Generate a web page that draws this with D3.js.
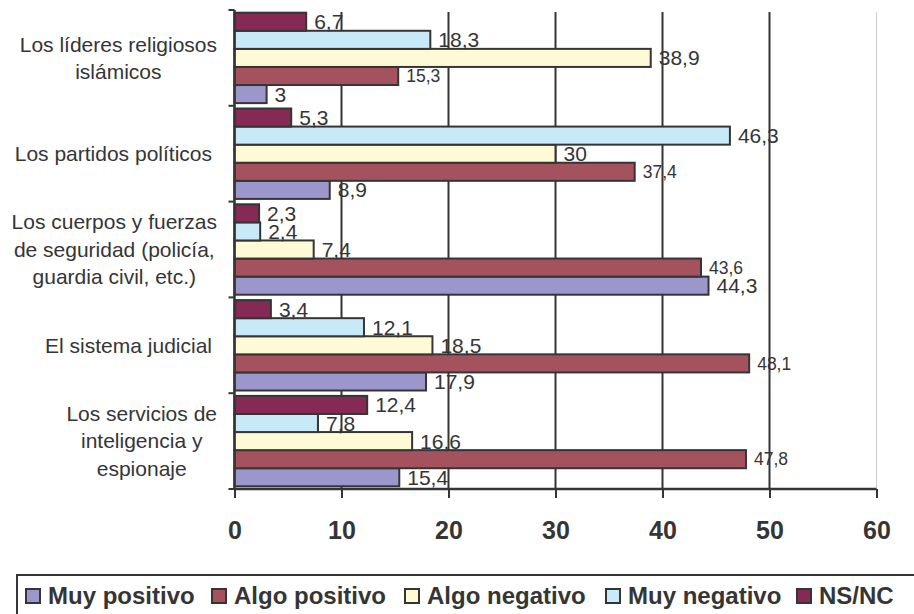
<!DOCTYPE html>
<html>
<head>
<meta charset="utf-8">
<script src="https://cdn.jsdelivr.net/npm/d3@7"></script>
<style>
  html, body { margin: 0; padding: 0; background: #fff; }
  svg { display: block; font-family: "Liberation Sans", Arial, Helvetica, sans-serif; }
</style>
</head>
<body>
<svg id="chart" width="914" height="614"></svg>
<script>
// ---- data ----
const categories = [
  "Los líderes religiosos islámicos",
  "Los partidos políticos",
  "Los cuerpos y fuerzas de seguridad (policía, guardia civil, etc.)",
  "El sistema judicial",
  "Los servicios de inteligencia y espionaje"
];
const categoryLines = [
  ["Los líderes religiosos", "islámicos"],
  ["Los partidos políticos"],
  ["Los cuerpos y fuerzas", "de seguridad (policía,", "guardia civil, etc.)"],
  ["El sistema judicial"],
  ["Los servicios de", "inteligencia y", "espionaje"]
];
const seriesNames = ["Muy positivo", "Algo positivo", "Algo negativo", "Muy negativo", "NS/NC"];
const muyPositivo  = [3, 8.9, 44.3, 17.9, 15.4];
const algoPositivo = [15.3, 37.4, 43.6, 48.1, 47.8];
const algoNegativo = [38.9, 30, 7.4, 18.5, 16.6];
const muyNegativo  = [18.3, 46.3, 2.4, 12.1, 7.8];
const nsnc         = [6.7, 5.3, 2.3, 3.4, 12.4];
const xTicks = [0, 10, 20, 30, 40, 50, 60];

const seriesValues = [muyPositivo, algoPositivo, algoNegativo, muyNegativo, nsnc];
const colors = ["#9b97ca", "#a5525f", "#fffad6", "#c7e9f8", "#852a54"];
const labelSizes = [21, 17.5, 21, 21, 21];
const ink = "#353535";

const svg = d3.select("#chart");
const plot = { left: 234.5, right: 876.5, top: 10, bottom: 489 };

const x = d3.scaleLinear().domain([0, 60]).range([plot.left, plot.right]);
const y = d3.scaleBand().domain(categories).range([plot.top, plot.bottom]).paddingInner(0).paddingOuter(0);
// inner order top->bottom: NS/NC, Muy negativo, Algo negativo, Algo positivo, Muy positivo
const inner = d3.scaleBand().domain(seriesNames.slice().reverse())
  .range([0, y.bandwidth()]).paddingOuter(0.149).paddingInner(0);

// gridlines
const grid = svg.append("g");
xTicks.filter(t => t > 0).forEach(t => {
  grid.append("line")
    .attr("x1", x(t)).attr("x2", x(t))
    .attr("y1", plot.top + 2).attr("y2", plot.bottom)
    .attr("stroke", t === 60 ? "#cfcfcf" : ink)
    .attr("stroke-width", t === 60 ? 1 : 2);
});

// bars
const bars = svg.append("g");
categories.forEach((c, ci) => {
  seriesNames.forEach((s, si) => {
    const v = seriesValues[si][ci];
    bars.append("rect")
      .attr("x", x(0))
      .attr("y", y(c) + inner(s))
      .attr("width", x(v) - x(0))
      .attr("height", inner.bandwidth())
      .attr("fill", colors[si])
      .attr("stroke", ink)
      .attr("stroke-width", 2);
  });
});

// axes
const xAxis = d3.axisBottom(x).tickValues(xTicks).tickSize(9).tickFormat(d => d);
const gx = svg.append("g").attr("transform", `translate(0,${plot.bottom})`).call(xAxis);
gx.select(".domain").attr("stroke", ink).attr("stroke-width", 2.5).attr("d", `M${plot.left},0H${plot.right}`);
gx.selectAll(".tick line").attr("stroke", ink).attr("stroke-width", 2);
gx.selectAll(".tick text")
  .attr("fill", ink).attr("font-size", 25).attr("font-weight", "bold")
  .attr("font-family", "'Liberation Sans', Arial, sans-serif")
  .attr("y", 0).attr("dy", 0)
  .attr("transform", "translate(0,50)");

const gy = svg.append("g").attr("transform", `translate(${plot.left},0)`);
gy.append("line").attr("x1", 0).attr("x2", 0).attr("y1", plot.top).attr("y2", plot.bottom)
  .attr("stroke", ink).attr("stroke-width", 2.5);
const boundaries = categories.map(c => y(c)).concat([plot.bottom]);
boundaries.forEach(b => {
  gy.append("line").attr("x1", -6).attr("x2", 0).attr("y1", b).attr("y2", b)
    .attr("stroke", ink).attr("stroke-width", 2);
});

// category labels
const catG = svg.append("g").attr("fill", ink).attr("font-size", 21);
categories.forEach((c, ci) => {
  const lines = categoryLines[ci];
  const lh = 27.5;
  const cy = y(c) + y.bandwidth() / 2;
  const t = catG.append("text").attr("text-anchor", "middle");
  lines.forEach((ln, li) => {
    t.append("tspan").attr("x", 0)
      .attr("y", cy + (li - (lines.length - 1) / 2) * lh)
      .attr("dy", "0.35em").text(ln);
  });
  let w = 0;
  t.selectAll("tspan").each(function () { w = Math.max(w, this.getComputedTextLength()); });
  const rightEdge = lines.length > 1 ? 217 : 212;
  t.selectAll("tspan").attr("x", rightEdge - w / 2);
});

// data labels
const fmt = v => String(v).replace(".", ",");
const lbl = svg.append("g").attr("fill", ink);
categories.forEach((c, ci) => {
  seriesNames.forEach((s, si) => {
    const v = seriesValues[si][ci];
    lbl.append("text")
      .attr("x", x(v) + 8)
      .attr("y", y(c) + inner(s) + inner.bandwidth() / 2)
      .attr("dy", "0.36em")
      .attr("font-size", labelSizes[si])
      .text(fmt(v));
  });
});

// legend
const leg = svg.append("g");
leg.append("rect").attr("x", 17).attr("y", 575).attr("width", 910).attr("height", 60)
  .attr("fill", "#fff").attr("stroke", ink).attr("stroke-width", 2);
const legX = [26, 212, 405, 606, 797];
seriesNames.forEach((s, si) => {
  leg.append("rect").attr("x", legX[si]).attr("y", 589).attr("width", 14).attr("height", 14)
    .attr("fill", colors[si]).attr("stroke", ink).attr("stroke-width", 2);
  leg.append("text").attr("x", legX[si] + 22).attr("y", 604)
    .attr("font-size", 24).attr("font-weight", "bold").attr("fill", ink)
    .text(s);
});
</script>
</body>
</html>
